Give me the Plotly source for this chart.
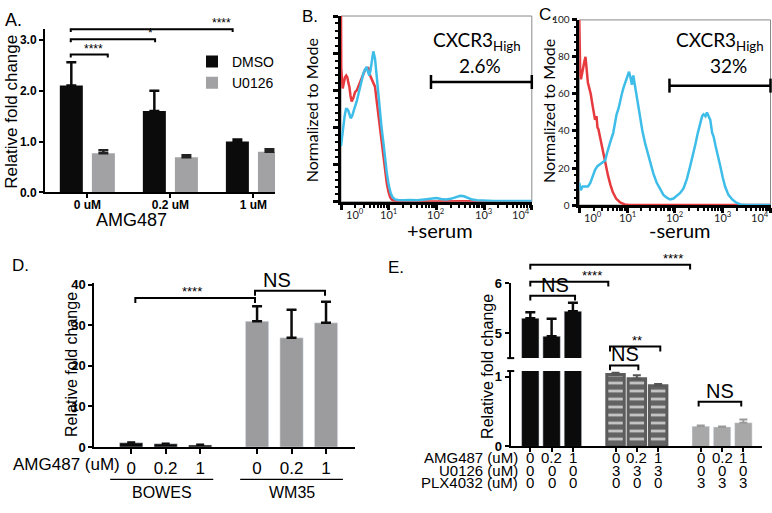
import plotly.graph_objects as go

W, H = 772, 513


def fx(px):
    return px / W


def fy(py):
    return 1 - py / H


# ---------------- DATA ----------------
# Panel A: relative fold change, DMSO vs U0126 at three AMG487 doses
a_categories = ["0 uM", "0.2 uM", "1 uM"]
a_dmso = [2.10, 1.60, 1.00]
a_dmso_err = [0.46, 0.40, 0.04]
a_u0126 = [0.77, 0.69, 0.80]
a_u0126_err = [0.06, 0.04, 0.05]

# Panel B: +serum flow histograms (log10 fluorescence, % of mode)
b_red_log = [0.0, 0.005, 0.035, 0.06, 0.084, 0.11, 0.133, 0.155, 0.175, 0.2, 0.224, 0.26, 0.294,
             0.33, 0.364, 0.40, 0.433, 0.47, 0.503, 0.54, 0.573, 0.61, 0.643, 0.68, 0.713, 0.75,
             0.783, 0.82, 0.853, 0.89, 0.923, 0.96, 0.993, 1.03, 1.062, 1.12, 1.2, 1.5, 2.0, 2.5,
             3.0, 3.5, 4.0]
b_red_pct = [100, 72, 61, 65, 67, 68, 67, 64, 62, 57, 54, 56, 59,
             60, 62, 64, 66, 69, 71, 72, 72, 68, 66, 64, 62, 54,
             47, 39, 30, 22, 16, 10, 5.6, 2.5, 1.3, 0.6, 0.3, 0.2, 0.2, 0.3,
             0.2, 0.1, 0.1]
b_blue_log = [0.0, 0.025, 0.049, 0.075, 0.105, 0.13, 0.154, 0.18, 0.203, 0.23, 0.259, 0.29, 0.329,
              0.365, 0.398, 0.43, 0.468, 0.5, 0.538, 0.565, 0.594, 0.62, 0.643, 0.66, 0.678, 0.695,
              0.713, 0.74, 0.762, 0.79, 0.818, 0.85, 0.888, 0.92, 0.958, 1.0, 1.041, 1.08, 1.132,
              1.2, 1.3, 1.45, 1.6, 1.75, 1.9, 2.0, 2.1, 2.2, 2.3, 2.4, 2.5, 2.58, 2.66, 2.75, 2.85,
              3.0, 3.2, 3.5, 4.0]
b_blue_pct = [30, 36, 40, 46, 50, 50, 49, 47, 45, 46, 48, 51, 54,
              58, 61, 65, 69, 71, 72.6, 70, 68, 71, 74, 78, 81, 79,
              77, 70, 63, 56, 49, 40, 32, 24, 16, 9, 4.7, 2.5, 1.3,
              1.0, 0.8, 1.0, 0.8, 1.2, 1.5, 2.0, 1.5, 1.2, 1.6, 2.5, 3.2, 3.0, 2.0, 1.2, 0.8,
              0.6, 0.5, 0.4, 0.4]

# Panel C: -serum flow histograms
c_red_log = [0.0, 0.005, 0.02, 0.035, 0.06, 0.085, 0.11, 0.13, 0.15, 0.18, 0.21, 0.24, 0.27,
             0.30, 0.33, 0.36, 0.38, 0.40, 0.43, 0.47, 0.51, 0.55, 0.60, 0.65, 0.70, 0.77, 0.85,
             0.95, 1.05, 2.0, 3.0, 4.0]
c_red_pct = [100, 85, 70, 68, 72, 74, 78, 80, 72, 66, 63, 60, 55,
             50, 46, 48, 42, 41, 37, 32, 27, 22, 16, 11, 7, 3.5, 1.5,
             0.3, 0, 0, 0, 0]
c_blue_log = [0.0, 0.03, 0.07, 0.12, 0.18, 0.23, 0.28, 0.33, 0.38, 0.43, 0.49, 0.54, 0.58, 0.61,
              0.66, 0.71, 0.75, 0.78, 0.82, 0.85, 0.89, 0.92, 0.96, 0.99, 1.02, 1.04, 1.07, 1.10,
              1.13, 1.15, 1.18, 1.20, 1.24, 1.27, 1.32, 1.38, 1.43, 1.48, 1.55, 1.62, 1.70, 1.76,
              1.83, 1.90, 1.97, 2.04, 2.11, 2.18, 2.25, 2.32, 2.38, 2.43, 2.48, 2.53, 2.57, 2.60,
              2.64, 2.67, 2.70, 2.74, 2.78, 2.81, 2.85, 2.90, 2.95, 3.00, 3.05, 3.12, 3.20, 3.27,
              3.37, 3.50, 4.0]
c_blue_pct = [12, 8, 10, 10, 10, 12, 16, 19, 21, 22, 23, 24, 28, 31,
              35, 39, 44, 49, 52, 56, 60, 63, 66, 69, 71, 72, 69, 65,
              70, 67, 62, 59, 53, 47, 40, 33, 28, 23, 17, 12, 8, 5.5,
              4, 3, 3.5, 5, 6.5, 9, 14, 21, 27, 33, 39, 45, 48, 49,
              48, 50, 48, 46, 39, 37, 32, 27, 21, 15, 10, 5.5, 3, 1.5,
              0.3, 0, 0]

# CXCR3-high gate (fluorescence bounds and height in % of mode)
gate_low = 77
gate_high = 10000
gate_level = 64.5
b_gate_text = "2.6%"
c_gate_text = "32%"
flow_tick_exponents = [0, 1, 2, 3, 4]

# Panel D: BOWES vs WM35
d_doses = ["0", "0.2", "1"]
d_bowes = [1.05, 0.80, 0.50]
d_bowes_err = [0.12, 0.08, 0.10]
d_wm35 = [31.0, 26.9, 30.6]
d_wm35_err = [3.7, 6.9, 5.2]

# Panel E: AMG487 with U0126 / PLX4032
e_amg_labels = ["0", "0.2", "1"] * 3
e_u0126_labels = ["0", "0", "0", "3", "3", "3", "0", "0", "0"]
e_plx_labels = ["0", "0", "0", "0", "0", "0", "3", "3", "3"]
e_ctrl = [5.30, 4.94, 5.44]
e_ctrl_err = [0.12, 0.35, 0.17]
e_u0 = [1.03, 0.97, 0.87]
e_u0_err = [0.025, 0.05, 0.025]
e_plx = [0.29, 0.28, 0.34]
e_plx_err = [0.01, 0.005, 0.045]

# ---------------- LAYOUT GEOMETRY ----------------
FONT = "Liberation Sans, Arial, sans-serif"
FLOW_FONT = "Lato, Open Sans, sans-serif"
BLACK = "#0b0b0b"
GRAY_A = "#a2a2a4"
GRAY_D = "#9c9c9e"
RED = "#e63a3f"
BLUE = "#3fbde9"

# pixel domains (x0,x1) and (y_bottom, y_top)
A_X, A_Y, A_XR, A_YR = (45, 275), (191, 22.3), (-0.51, 2.26), (0, 3.22)
B_X, B_Y = (341, 531.8), (200.7, 9.3)
C_X, C_Y = (579.3, 770.5), (204, 13.3)
D_X, D_Y, D_XR, D_YR = (94.3, 355), (453.3, 284.8), (-1.07, 6.49), (0, 40.3)
E_X, E_XR = (510.7, 761.7), (-0.92, 10.86)
E_YL, E_YLR = (452.7, 375), (0, 1.08)
E_YU, E_YUR = (361.7, 284.5), (4.5, 6.0)


def yp(v, dom, rng):
    b, t = fy(dom[0]), fy(dom[1])
    return b + (v - rng[0]) / (rng[1] - rng[0]) * (t - b)


fig = go.Figure()

# ---------- Panel A ----------
a_pos = list(range(len(a_categories)))
fig.add_trace(go.Bar(
    x=[p - 0.193 for p in a_pos], y=a_dmso, width=0.277, name="DMSO",
    marker=dict(color=BLACK, line=dict(width=0)),
    error_y=dict(type="data", array=a_dmso_err, arrayminus=[0] * 3, symmetric=False,
                 color=BLACK, thickness=2.5, width=5),
    xaxis="x", yaxis="y", showlegend=True))
fig.add_trace(go.Bar(
    x=[p + 0.193 for p in a_pos], y=a_u0126, width=0.277, name="U0126",
    marker=dict(color=GRAY_A, line=dict(width=0)),
    error_y=dict(type="data", array=a_u0126_err, arrayminus=[0] * 3, symmetric=False,
                 color="#222", thickness=2.5, width=5),
    xaxis="x", yaxis="y", showlegend=True))

# ---------- Panels B & C (flow) ----------
for lg, pc, col, xa, ya in [
    (b_red_log, b_red_pct, RED, "x2", "y2"),
    (b_blue_log, b_blue_pct, BLUE, "x2", "y2"),
    (c_red_log, c_red_pct, RED, "x3", "y3"),
    (c_blue_log, c_blue_pct, BLUE, "x3", "y3"),
]:
    fig.add_trace(go.Scatter(x=[10 ** v for v in lg], y=pc, mode="lines",
                             line=dict(color=col, width=2.5), xaxis=xa, yaxis=ya,
                             showlegend=False, hoverinfo="skip"))
for xa, ya in [("x2", "y2"), ("x3", "y3")]:
    fig.add_trace(go.Scatter(x=[gate_low, gate_high], y=[gate_level, gate_level],
                             mode="lines+markers", cliponaxis=False,
                             line=dict(color="black", width=2.5),
                             marker=dict(symbol="line-ns", size=10, color="black",
                                         line=dict(width=2.5, color="black")),
                             xaxis=xa, yaxis=ya, showlegend=False))

# ---------- Panel D ----------
d_pos_bowes = [0, 1, 2]
d_pos_wm35 = [3.65, 4.65, 5.65]
fig.add_trace(go.Bar(x=d_pos_bowes, y=d_bowes, width=0.675, marker=dict(color=BLACK),
                     error_y=dict(type="data", array=d_bowes_err, arrayminus=[0] * 3,
                                  symmetric=False, color=BLACK, thickness=2, width=4),
                     xaxis="x4", yaxis="y4", showlegend=False))
fig.add_trace(go.Bar(x=d_pos_wm35, y=d_wm35, width=0.675, marker=dict(color=GRAY_D),
                     error_y=dict(type="data", array=d_wm35_err, arrayminus=[0] * 3,
                                  symmetric=False, color=BLACK, thickness=2.5, width=5),
                     xaxis="x4", yaxis="y4", showlegend=False))

# ---------- Panel E ----------
e_pos = [0, 1, 2, 4, 5, 6, 8, 9, 10]
BW = 0.82
for ya in ["y5", "y6"]:
    fig.add_trace(go.Bar(x=e_pos[0:3], y=e_ctrl, width=BW, marker=dict(color=BLACK),
                         error_y=dict(type="data", array=e_ctrl_err, arrayminus=[0] * 3,
                                      symmetric=False, color=BLACK, thickness=2.5, width=5,
                                      visible=(ya == "y6")),
                         xaxis="x5", yaxis=ya, showlegend=False))
fig.add_trace(go.Bar(x=e_pos[3:6], y=e_u0, width=BW,
                     marker=dict(color="#636363",
                                 line=dict(color="#5c5c5c", width=3),
                                 pattern=dict(shape="-", fgcolor="#c4c4c4", bgcolor="#636363",
                                              size=8, solidity=0.35, fillmode="replace")),
                     error_y=dict(type="data", array=e_u0_err, arrayminus=[0] * 3,
                                  symmetric=False, color="#555", thickness=2, width=4),
                     xaxis="x5", yaxis="y5", showlegend=False))
fig.add_trace(go.Bar(x=e_pos[6:9], y=e_plx, width=BW, marker=dict(color="#a8a8a8"),
                     error_y=dict(type="data", array=e_plx_err, arrayminus=[0] * 3,
                                  symmetric=False, color="#9a9a9a", thickness=2, width=4),
                     xaxis="x5", yaxis="y5", showlegend=False))

# ---------- Axes ----------
bar_axis = dict(showline=True, linecolor="black", linewidth=2, ticks="outside",
                ticklen=4, tickwidth=2, tickcolor="black", showgrid=False, zeroline=False)
bold12 = dict(family=FONT, size=12, color="black", weight="bold")

layout_axes = dict(
    xaxis=dict(bar_axis, domain=[fx(A_X[0]), fx(A_X[1])], range=list(A_XR), anchor="y",
               tickvals=a_pos, ticktext=a_categories, tickfont=bold12, ticklabelstandoff=-4),
    yaxis=dict(bar_axis, domain=[fy(A_Y[0]), fy(A_Y[1])], range=list(A_YR), anchor="x",
               tickvals=[0, 1, 2, 3], ticktext=["0.0", "1.0", "2.0", "3.0"], tickfont=bold12),
    xaxis4=dict(bar_axis, domain=[fx(D_X[0]), fx(D_X[1])], range=list(D_XR), anchor="y4",
                tickvals=d_pos_bowes + d_pos_wm35, ticktext=d_doses * 2,
                tickfont=dict(family=FONT, size=17, color="black"), ticklen=5),
    yaxis4=dict(bar_axis, domain=[fy(D_Y[0]), fy(D_Y[1])], range=list(D_YR), anchor="x4",
                tickvals=[0, 10, 20, 30, 40], tickfont=dict(bold12, size=13)),
    xaxis5=dict(bar_axis, domain=[fx(E_X[0]), fx(E_X[1])], range=list(E_XR), anchor="y5",
                tickvals=e_pos, showticklabels=False),
    yaxis5=dict(bar_axis, domain=[fy(E_YL[0]), fy(E_YL[1])], range=list(E_YLR), anchor="x5",
                tickvals=[0, 1], tickfont=dict(bold12, size=13)),
    yaxis6=dict(bar_axis, domain=[fy(E_YU[0]), fy(E_YU[1])], range=list(E_YUR), anchor="x5",
                tickvals=[5, 6], tickfont=dict(bold12, size=13)),
)

decades = [10 ** k for k in flow_tick_exponents]
minor_log = [d * 10 ** k for k in range(4) for d in range(2, 10)]
flow_x = dict(type="log", range=[0, 4], showline=True, linecolor="black", linewidth=2.5,
              ticks="outside", ticklen=5, tickwidth=2.5, tickcolor="black", showgrid=False,
              zeroline=False, tickvals=decades, showticklabels=False,
              minor=dict(tickvals=minor_log, ticks="outside", ticklen=3, tickwidth=1.5,
                         tickcolor="black", showgrid=False))
flow_y = dict(range=[0, 100], showline=True, linecolor="black", linewidth=2.5,
              ticks="outside", ticklen=5, tickwidth=2.5, tickcolor="black", showgrid=False,
              zeroline=False, tickvals=[0, 20, 40, 60, 80, 100],
              tickfont=dict(family=FLOW_FONT, size=10, color="#222"),
              minor=dict(dtick=4, ticks="outside", ticklen=3, tickwidth=1.5,
                         tickcolor="black", showgrid=False))
layout_axes.update(
    xaxis2=dict(flow_x, domain=[fx(B_X[0]), fx(B_X[1])], anchor="y2"),
    yaxis2=dict(flow_y, domain=[fy(B_Y[0]), fy(B_Y[1])], anchor="x2", showticklabels=False),
    xaxis3=dict(flow_x, domain=[fx(C_X[0]), fx(C_X[1])], anchor="y3"),
    yaxis3=dict(flow_y, domain=[fy(C_Y[0]), fy(C_Y[1])], anchor="x3"),
)

# ---------- Shapes (frames, brackets, group lines) ----------
shapes = []
for n in ["2", "3"]:
    shapes.append(dict(type="rect", xref="x%s domain" % n, yref="y%s domain" % n,
                       x0=0, x1=1, y0=0, y1=1, layer="below",
                       line=dict(color="#8a8a8a", width=1)))


def bracket(xref, x0, x1, ypaper, drop=4, width=2):
    d = drop / H
    shapes.append(dict(type="path", xref=xref, yref="paper",
                       path="M %f,%f L %f,%f L %f,%f L %f,%f" % (x0, ypaper - d, x0, ypaper,
                                                                 x1, ypaper, x1, ypaper - d),
                       line=dict(color="black", width=width)))


annotations = []


def txt(x, y, text, size, xref="paper", yref="paper", family=FONT, angle=0, xanchor="center",
        yanchor="middle", color="black", yshift=0, xshift=0):
    annotations.append(dict(x=x, y=y, xref=xref, yref=yref, text=text, showarrow=False,
                            font=dict(family=family, size=size, color=color), textangle=angle,
                            xanchor=xanchor, yanchor=yanchor, yshift=yshift, xshift=xshift))


# A brackets: (x0, x1, level, text, text_x)
a_brackets = [(-0.2, 1.75, 3.21, "****", 1.61), (-0.2, 0.816, 3.01, "*", 0.757),
              (-0.2, 0.246, 2.71, "****", 0.07)]
for x0, x1, lv, t, tx in a_brackets:
    y = yp(lv, A_Y, A_YR)
    bracket("x", x0, x1, y, drop=3)
    txt(tx, y, t, 12, xref="x", yanchor="bottom", yshift=-3)

# D brackets
d_brackets = [(0.12, 3.59, 36.7, "****", 1.76, 13), (3.59, 5.62, 38.5, "NS", 4.22, 20)]
for x0, x1, lv, t, tx, sz in d_brackets:
    y = yp(lv, D_Y, D_YR)
    bracket("x4", x0, x1, y, drop=5)
    txt(tx, y, t, sz, xref="x4", yanchor="bottom", yshift=-2 if sz > 14 else -3)
for x0, x1 in [(-0.61, 2.38), (3.16, 6.14)]:
    shapes.append(dict(type="line", xref="x4", yref="paper", x0=x0, x1=x1,
                       y0=fy(486.7), y1=fy(486.7), line=dict(color="black", width=1.2)))

# E brackets (upper axis levels / lower axis levels)
e_brackets_up = [(0, 7.5, 6.37, "****", 6.72, 13), (0, 3.66, 6.03, "****", 2.88, 13),
                 (0, 2.1, 5.75, "NS", 1.15, 20)]
for x0, x1, lv, t, tx, sz in e_brackets_up:
    y = yp(lv, E_YU, E_YUR)
    bracket("x5", x0, x1, y, drop=5)
    txt(tx, y, t, sz, xref="x5", yanchor="bottom", yshift=-2 if sz > 14 else -3)
e_brackets_lo = [(3.74, 6.1, 1.43, "**", 5.0, 13), (3.74, 5.07, 1.16, "NS", 4.44, 20),
                 (7.9, 9.9, 0.64, "NS", 8.9, 20)]
for x0, x1, lv, t, tx, sz in e_brackets_lo:
    y = yp(lv, E_YL, E_YLR)
    bracket("x5", x0, x1, y, drop=5)
    txt(tx, y, t, sz, xref="x5", yanchor="bottom", yshift=-2 if sz > 14 else -3)
# axis break caps
for yref, yv in [("y6 domain", 0), ("y5 domain", 1)]:
    shapes.append(dict(type="line", xref="x5 domain", yref=yref, x0=-0.014, x1=0.014,
                       y0=yv, y1=yv, line=dict(color="black", width=2)))

# ---------- Text ----------
# A
txt(fx(13), fy(13), "A.", 18)
txt(fx(12), fy(108), "Relative fold change", 17, angle=-90)
txt(fx(131), fy(219), "AMG487", 18)
# B / C flow tick labels (log10 positions)
for xref, top in [("x2", B_Y[0]), ("x3", C_Y[0])]:
    for k in flow_tick_exponents:
        anchor = "left" if k == flow_tick_exponents[0] else (
            "right" if k == flow_tick_exponents[-1] else "center")
        txt(k, fy(top + 2), "10<sup>%d</sup>" % k, 11, xref=xref, family=FLOW_FONT,
            xanchor=anchor, yanchor="top", color="#222", xshift=3 if anchor == "left" else 0)
# B
txt(fx(310), fy(10), "B.", 17)
txt(fx(311.7), fy(106.7), "Normalized to Mode", 16, family=FLOW_FONT, angle=-90)
txt(fx(440), fy(230), "+serum", 20, family=FLOW_FONT)
txt(fx(477), fy(35), "CXCR3<sub>High</sub>", 19, family=FLOW_FONT)
txt(fx(480), fy(60), b_gate_text, 19, family=FLOW_FONT)
# C
txt(fx(547), fy(8), "C.", 17)
txt(fx(548.3), fy(106.7), "Normalized to Mode", 16, family=FLOW_FONT, angle=-90)
txt(fx(680), fy(230), "-serum", 20, family=FLOW_FONT)
txt(fx(720), fy(35), "CXCR3<sub>High</sub>", 19, family=FLOW_FONT)
txt(fx(728), fy(60), c_gate_text, 19, family=FLOW_FONT)
# D
txt(fx(20), fy(266), "D.", 17)
txt(fx(71.7), fy(368), "Relative fold change", 16, angle=-90)
txt(fx(122), fy(471.7), "AMG487 (uM)", 17, xanchor="right")
txt(0.88, fy(500), "BOWES", 16, xref="x4")
txt(4.65, fy(500), "WM35", 16, xref="x4")
# E
txt(fx(396), fy(268), "E.", 17)
txt(fx(486.7), fy(370), "Relative fold change", 16, angle=-90)
for row_y, name, labels in [(464, "AMG487 (uM)", e_amg_labels),
                            (477, "U0126 (uM)", e_u0126_labels),
                            (490, "PLX4032 (uM)", e_plx_labels)]:
    txt(fx(520), fy(row_y), name, 15, xanchor="right")
    for p, lab in zip(e_pos, labels):
        txt(p, fy(row_y), lab, 15, xref="x5")

fig.update_layout(
    width=W, height=H, margin=dict(l=0, r=0, t=0, b=0),
    paper_bgcolor="white", plot_bgcolor="white",
    barmode="overlay", font=dict(family=FONT, color="black"),
    showlegend=True,
    legend=dict(x=fx(192), y=fy(40), xanchor="left", yanchor="top",
                font=dict(family=FONT, size=14, color="black"),
                bgcolor="rgba(0,0,0,0)", tracegroupgap=0, itemwidth=30),
    shapes=shapes, annotations=annotations,
    **layout_axes,
)

fig.write_html("out.html", config={"displayModeBar": False},
               post_script="document.body.style.margin='0';document.body.style.overflow='hidden';")
